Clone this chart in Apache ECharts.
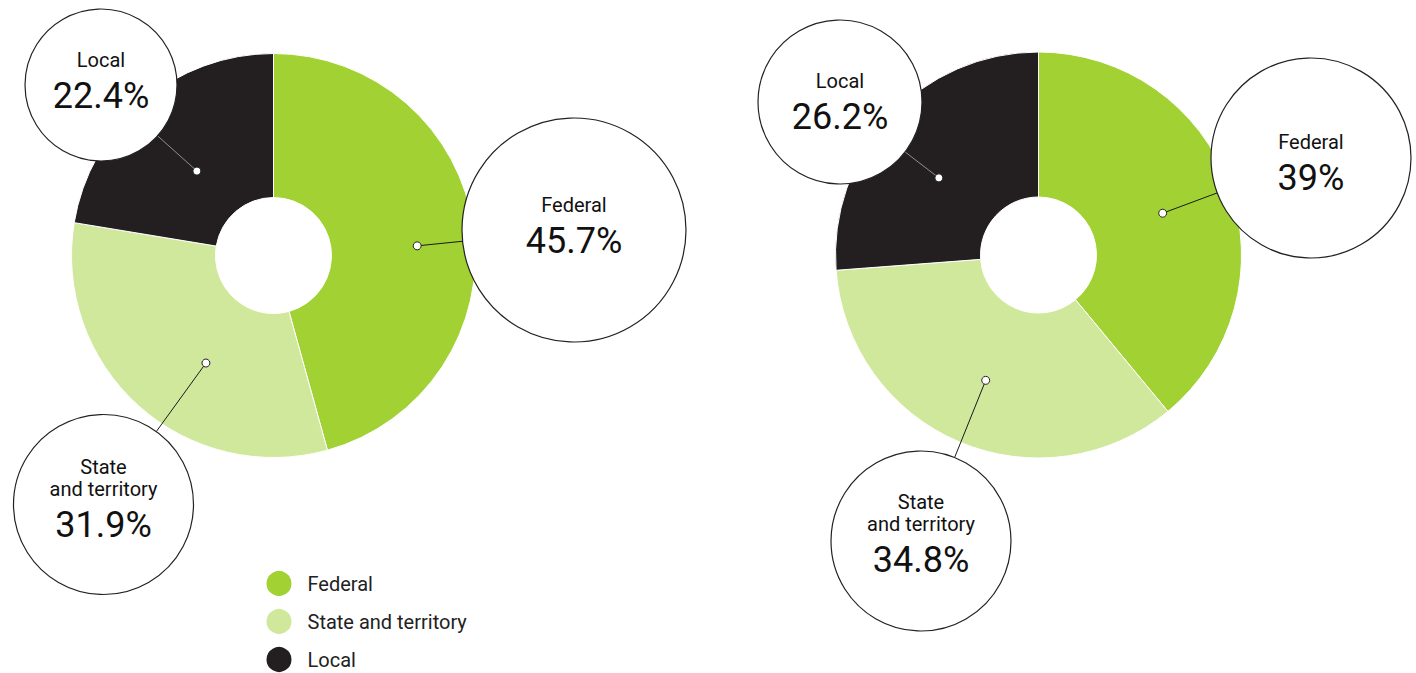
<!DOCTYPE html>
<html>
<head>
<meta charset="utf-8">
<script src="https://cdn.jsdelivr.net/npm/echarts@6/dist/echarts.min.js"></script>
<style>
  html, body { margin: 0; padding: 0; background: #fff; }
  #chart { width: 1416px; height: 673px; }
</style>
</head>
<body>
<div id="chart"></div>
<script>
// Shares of spending by level of government
const categories = ['Federal', 'State and territory', 'Local'];
const leftValues = [45.7, 31.9, 22.4];
const rightValues = [39, 34.8, 26.2];

// How each category name is broken inside its callout bubble
const calloutLines = [['Federal'], ['State', 'and territory'], ['Local']];

const colors = ['#a1d133', '#d0e89b', '#231f20'];
const FONT = 'Roboto, "Noto Sans", Arial, sans-serif';

// Layout of each donut and of its callouts (one per category, same order)
const donuts = [
  {
    values: leftValues, center: [273.5, 255.5], radius: [58, 202],
    callouts: [
      { cx: 574, cy: 230, r: 112, dy: -7.5, anchorR: 144, turn: 3.9, line: '#1a1a1a' },
      { cx: 103.5, cy: 504.5, r: 90, dy: 2.5, anchorR: 127, turn: -9.8, line: '#1a1a1a' },
      { cx: 101, cy: 85, r: 76, dy: -7.5, anchorR: 114, turn: -1.9, line: '#8f8f8f' }
    ]
  },
  {
    values: rightValues, center: [1038.5, 255], radius: [58, 203],
    callouts: [
      { cx: 1311, cy: 158, r: 100, dy: 2, anchorR: 131, turn: 1.2, line: '#1a1a1a' },
      { cx: 921, cy: 541, r: 90, dy: 1, anchorR: 136, turn: -0.2, line: '#1a1a1a' },
      { cx: 840, cy: 102, r: 82, dy: -3, anchorR: 126, turn: -5.1, line: '#8f8f8f' }
    ]
  }
];

const NAME_LINE = 22;

function buildCallouts(donut) {
  const els = [];
  const total = donut.values.reduce((a, b) => a + b, 0);
  let cum = 0;
  donut.values.forEach((v, i) => {
    const c = donut.callouts[i];
    const startDeg = cum / total * 360;
    cum += v;
    const endDeg = cum / total * 360;
    const mid = ((startDeg + endDeg) / 2 + c.turn) * Math.PI / 180;
    // anchor dot inside the slice (clockwise from 12 o'clock)
    const ax = donut.center[0] + c.anchorR * Math.sin(mid);
    const ay = donut.center[1] - c.anchorR * Math.cos(mid);
    // leader ends on the bubble's rim
    const dx = ax - c.cx, dy = ay - c.cy;
    const d = Math.sqrt(dx * dx + dy * dy);
    const ex = c.cx + c.r * dx / d, ey = c.cy + c.r * dy / d;

    els.push({
      type: 'line', z: 10, silent: true,
      shape: { x1: ax, y1: ay, x2: ex, y2: ey },
      style: { stroke: c.line, lineWidth: 1 }
    });
    els.push({
      type: 'circle', z: 11, silent: true,
      shape: { cx: ax, cy: ay, r: 4 },
      style: { fill: '#fff', stroke: '#222', lineWidth: 1 }
    });
    els.push({
      type: 'circle', z: 12, silent: true,
      shape: { cx: c.cx, cy: c.cy, r: c.r },
      style: { fill: '#fff', stroke: '#222', lineWidth: 1.2 }
    });
    const lines = calloutLines[i];
    const base = c.cy + c.dy;
    // name block: its last line sits 18px above the text centre
    const nameCenter = base - 18 - (lines.length - 1) * NAME_LINE / 2;
    els.push({
      type: 'text', z: 13, silent: true,
      x: c.cx, y: nameCenter,
      style: {
        text: lines.join('\n'), fill: '#111', fontSize: 20, fontFamily: FONT,
        lineHeight: NAME_LINE,
        align: 'center', verticalAlign: 'middle',
        textAlign: 'center', textVerticalAlign: 'middle'
      }
    });
    els.push({
      type: 'text', z: 13, silent: true,
      x: c.cx, y: base + 18,
      style: {
        text: v + '%', fill: '#111', fontSize: 36, fontFamily: FONT,
        lineHeight: 36,
        align: 'center', verticalAlign: 'middle',
        textAlign: 'center', textVerticalAlign: 'middle'
      }
    });
  });
  return els;
}

const chart = echarts.init(document.getElementById('chart'), null, { renderer: 'svg' });

chart.setOption({
  animation: false,
  color: colors,
  legend: {
    orient: 'vertical',
    left: 264.5,
    top: 569,
    height: 112,
    padding: 0,
    icon: 'circle',
    itemWidth: 27,
    itemHeight: 27,
    itemGap: 9,
    selectedMode: false,
    data: categories,
    textStyle: {
      fontSize: 20, lineHeight: 22, color: '#222', fontFamily: FONT,
      padding: [0, 0, 0, 10]
    }
  },
  series: donuts.map(d => ({
    type: 'pie',
    center: d.center,
    radius: d.radius,
    startAngle: 90,
    clockwise: true,
    silent: true,
    label: { show: false },
    labelLine: { show: false },
    itemStyle: { borderColor: '#fff', borderWidth: 1 },
    data: categories.map((name, i) => ({ name: name, value: d.values[i] }))
  })),
  graphic: { elements: donuts.flatMap(buildCallouts) }
});
</script>
</body>
</html>
